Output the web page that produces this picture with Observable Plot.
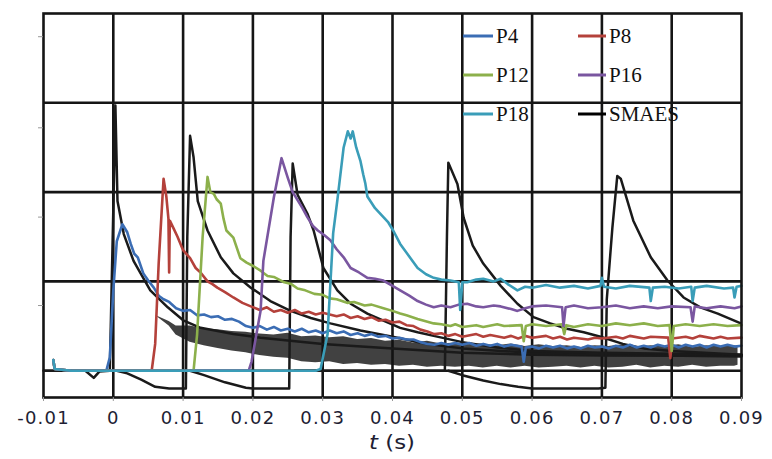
<!DOCTYPE html>
<html><head><meta charset="utf-8">
<script src="https://cdn.jsdelivr.net/npm/d3@7"></script>
<script src="https://cdn.jsdelivr.net/npm/@observablehq/plot@0.6"></script>
<style>
body{margin:0;background:#fff} #chart{width:772px;height:459px}
g[aria-label="x-axis tick label"] text{letter-spacing:1.2px}
</style>
</head><body><div id="chart"></div>
<script>
const xTicks = [-0.01,0,0.01,0.02,0.03,0.04,0.05,0.06,0.07,0.08,0.09];
const xTickLabels = ["-0.01","0","0.01","0.02","0.03","0.04","0.05","0.06","0.07","0.08","0.09"];
const xGrid = [0,0.01,0.02,0.03,0.04,0.05,0.06,0.07,0.08];
const yGrid = [0,1,2,3];
const yTicks = [0.73,1.72,2.72,3.74];
const seriesNames = ["P4","P8","P12","P16","P18","SMAES"];
const seriesColors = ["#3b6db4","#b4413b","#8cb04b","#7a56a0","#3a9db8","#000000"];

const p4 = [[-0.0086,0.12],[-0.0084,0.02],[-0.006,0],[-0.001,0],[-0.0005,0.15],[0,0.9],[0.0005,1.45],[0.0013,1.64],[0.002,1.55],[0.0025,1.42],[0.003,1.31],[0.0035,1.27],[0.0043,1.09],[0.005,1.01],[0.0058,0.93],[0.0065,0.84],[0.0072,0.8],[0.008,0.77],[0.009,0.7],[0.01,0.67],[0.011,0.68],[0.012,0.62],[0.013,0.63],[0.014,0.6],[0.015,0.61],[0.016,0.57],[0.017,0.58],[0.018,0.55],[0.019,0.5],[0.02,0.48],[0.021,0.5],[0.022,0.46],[0.023,0.49],[0.024,0.45],[0.025,0.47],[0.026,0.44],[0.027,0.47],[0.028,0.43],[0.029,0.45],[0.03,0.42],[0.031,0.45],[0.032,0.42],[0.033,0.44],[0.034,0.4],[0.035,0.42],[0.036,0.39],[0.037,0.41],[0.038,0.38],[0.039,0.39],[0.04,0.36],[0.041,0.37],[0.042,0.35],[0.043,0.35],[0.044,0.32],[0.045,0.3],[0.046,0.29],[0.047,0.31],[0.048,0.29],[0.049,0.31],[0.05,0.29],[0.051,0.31],[0.052,0.28],[0.053,0.3],[0.054,0.28],[0.055,0.3],[0.056,0.27],[0.057,0.29],[0.0585,0.27],[0.0588,0.1],[0.0591,0.26],[0.06,0.27],[0.061,0.25],[0.062,0.28],[0.063,0.26],[0.064,0.28],[0.065,0.25],[0.066,0.27],[0.067,0.25],[0.068,0.28],[0.069,0.26],[0.07,0.27],[0.071,0.25],[0.072,0.28],[0.073,0.26],[0.074,0.29],[0.075,0.26],[0.076,0.28],[0.077,0.26],[0.078,0.29],[0.079,0.27],[0.08,0.29],[0.081,0.26],[0.082,0.29],[0.083,0.27],[0.084,0.29],[0.085,0.26],[0.086,0.29],[0.087,0.27],[0.088,0.29],[0.089,0.27],[0.09,0.28]];

const p8 = [[-0.0086,0.12],[-0.0084,0.02],[-0.006,0],[0.0055,0],[0.006,0.3],[0.0065,1.2],[0.0072,2.15],[0.0076,1.95],[0.0079,1.7],[0.008,1.1],[0.0081,1.68],[0.0086,1.6],[0.0092,1.5],[0.01,1.35],[0.011,1.26],[0.0118,1.15],[0.0125,1.1],[0.0135,1.0],[0.0142,0.97],[0.0149,0.93],[0.016,0.88],[0.0172,0.82],[0.0185,0.76],[0.0197,0.72],[0.021,0.68],[0.022,0.71],[0.023,0.66],[0.024,0.68],[0.025,0.65],[0.026,0.68],[0.027,0.64],[0.028,0.66],[0.029,0.63],[0.03,0.65],[0.032,0.61],[0.033,0.63],[0.034,0.59],[0.035,0.61],[0.036,0.58],[0.037,0.6],[0.038,0.56],[0.039,0.57],[0.04,0.54],[0.041,0.55],[0.042,0.51],[0.043,0.5],[0.044,0.46],[0.045,0.44],[0.046,0.41],[0.047,0.42],[0.048,0.39],[0.049,0.41],[0.05,0.38],[0.052,0.41],[0.053,0.38],[0.054,0.4],[0.056,0.37],[0.057,0.39],[0.058,0.36],[0.059,0.39],[0.06,0.37],[0.062,0.39],[0.063,0.36],[0.064,0.38],[0.065,0.35],[0.066,0.37],[0.068,0.35],[0.069,0.37],[0.07,0.36],[0.072,0.38],[0.073,0.36],[0.074,0.39],[0.076,0.36],[0.077,0.38],[0.0795,0.37],[0.0798,0.14],[0.0801,0.36],[0.082,0.38],[0.083,0.36],[0.084,0.39],[0.086,0.36],[0.087,0.38],[0.088,0.36],[0.09,0.37]];

const p12 = [[-0.0086,0.12],[-0.0084,0.02],[-0.006,0],[0.0115,0],[0.012,0.4],[0.0128,1.5],[0.0135,2.17],[0.0139,2.0],[0.0144,1.98],[0.0148,1.92],[0.0154,1.87],[0.0158,1.7],[0.0162,1.57],[0.0172,1.49],[0.0182,1.26],[0.0191,1.21],[0.0201,1.17],[0.0211,1.12],[0.0221,1.06],[0.023,1.05],[0.0245,0.99],[0.0255,0.97],[0.0264,0.92],[0.0275,0.9],[0.0288,0.86],[0.03,0.85],[0.031,0.81],[0.032,0.8],[0.0335,0.76],[0.0345,0.77],[0.036,0.73],[0.037,0.74],[0.0387,0.7],[0.04,0.67],[0.0411,0.64],[0.042,0.62],[0.0436,0.58],[0.0445,0.56],[0.0459,0.53],[0.047,0.52],[0.0483,0.5],[0.049,0.52],[0.05,0.49],[0.052,0.51],[0.053,0.49],[0.055,0.52],[0.056,0.5],[0.0585,0.51],[0.0588,0.33],[0.0591,0.5],[0.06,0.52],[0.062,0.5],[0.0643,0.52],[0.0646,0.41],[0.0649,0.51],[0.066,0.49],[0.068,0.52],[0.07,0.5],[0.072,0.53],[0.074,0.51],[0.076,0.53],[0.078,0.5],[0.0797,0.51],[0.08,0.22],[0.0803,0.5],[0.082,0.52],[0.084,0.5],[0.086,0.52],[0.088,0.5],[0.09,0.51]];

const p16 = [[-0.0086,0.12],[-0.0084,0.02],[-0.006,0],[0.0194,0],[0.0198,0.1],[0.0211,0.67],[0.0215,1.23],[0.023,1.94],[0.0241,2.38],[0.025,2.16],[0.0257,2.0],[0.0264,1.91],[0.0271,1.82],[0.0278,1.72],[0.0286,1.62],[0.0293,1.57],[0.0302,1.52],[0.0311,1.46],[0.032,1.36],[0.033,1.27],[0.034,1.15],[0.0352,1.1],[0.0364,1.04],[0.0375,1.03],[0.0387,1.01],[0.04,0.95],[0.0411,0.9],[0.0424,0.84],[0.0436,0.78],[0.0448,0.74],[0.0459,0.71],[0.047,0.73],[0.0483,0.71],[0.0495,0.74],[0.0507,0.75],[0.052,0.72],[0.053,0.71],[0.0545,0.73],[0.0555,0.72],[0.057,0.69],[0.0579,0.67],[0.059,0.7],[0.06,0.72],[0.062,0.73],[0.0643,0.71],[0.0645,0.5],[0.0648,0.71],[0.066,0.73],[0.068,0.7],[0.07,0.71],[0.072,0.73],[0.074,0.7],[0.076,0.72],[0.078,0.7],[0.08,0.72],[0.0827,0.71],[0.083,0.55],[0.0833,0.72],[0.085,0.7],[0.087,0.72],[0.089,0.7],[0.09,0.72]];

const p18 = [[-0.0086,0.12],[-0.0084,0.02],[-0.006,0],[0.029,0],[0.0297,0.02],[0.0307,0.41],[0.0315,1.54],[0.0321,1.91],[0.033,2.5],[0.0336,2.68],[0.034,2.6],[0.0343,2.68],[0.0348,2.5],[0.0354,2.35],[0.0358,2.2],[0.0361,2.1],[0.0364,1.95],[0.0375,1.82],[0.0387,1.72],[0.0394,1.66],[0.0401,1.57],[0.0411,1.42],[0.0424,1.28],[0.0436,1.15],[0.0448,1.08],[0.0459,1.04],[0.047,1.02],[0.0483,1.01],[0.0495,0.99],[0.0497,0.68],[0.05,0.99],[0.0507,0.99],[0.052,1.02],[0.053,1.03],[0.0545,1.0],[0.0555,1.03],[0.0565,0.97],[0.0579,0.9],[0.059,0.94],[0.06,0.93],[0.062,0.96],[0.064,0.93],[0.066,0.95],[0.068,0.92],[0.0698,0.95],[0.07,1.04],[0.0703,0.94],[0.072,0.92],[0.074,0.95],[0.0768,0.93],[0.077,0.78],[0.0773,0.93],[0.079,0.94],[0.081,0.92],[0.0828,0.94],[0.083,0.78],[0.0833,0.93],[0.085,0.95],[0.0875,0.92],[0.0888,0.93],[0.089,0.82],[0.0893,0.94],[0.09,0.95]];

// SMAES: several overlapping black traces
const smaes1 = [[-0.01,0],[-0.004,0],[-0.0028,-0.08],[-0.002,-0.01],[-0.0005,0],[0,1.8],[0.0003,2.97],[0.0006,1.9],[0.0015,1.53],[0.0029,1.23],[0.0053,0.9],[0.0078,0.71],[0.0101,0.56],[0.0125,0.48],[0.0172,0.41],[0.0211,0.37],[0.03,0.3],[0.04,0.25],[0.05,0.2],[0.06,0.18],[0.07,0.17],[0.08,0.17],[0.09,0.17]];
const smaes2 = [[0.0005,0],[0.002,-0.03],[0.004,-0.1],[0.006,-0.18],[0.008,-0.2],[0.0104,-0.2],[0.0106,1.5],[0.011,2.63],[0.0115,2.39],[0.0121,1.9],[0.0135,1.57],[0.0154,1.27],[0.0172,1.09],[0.0197,0.93],[0.0225,0.78],[0.0254,0.67],[0.0283,0.59],[0.0311,0.53],[0.0354,0.45],[0.04,0.38],[0.045,0.3],[0.05,0.25],[0.06,0.2],[0.07,0.18],[0.09,0.16]];
const smaes3 = [[0.011,0],[0.013,-0.05],[0.016,-0.13],[0.019,-0.19],[0.02,-0.2],[0.0252,-0.2],[0.0254,1.5],[0.0257,2.32],[0.0264,1.97],[0.0278,1.76],[0.0287,1.57],[0.0301,1.15],[0.0321,0.9],[0.034,0.75],[0.0364,0.64],[0.0387,0.56],[0.0411,0.48],[0.0436,0.43],[0.0459,0.39],[0.05,0.32],[0.055,0.26],[0.06,0.22],[0.07,0.2],[0.09,0.18]];
const smaes4 = [[0.026,0],[0.0475,0],[0.0478,1.5],[0.048,2.33],[0.0493,2.09],[0.0502,1.71],[0.0515,1.4],[0.053,1.2],[0.0555,0.95],[0.0579,0.75],[0.0602,0.6],[0.0626,0.53],[0.065,0.47],[0.0674,0.43],[0.0698,0.38],[0.073,0.3],[0.076,0.25],[0.08,0.22],[0.09,0.18]];
const smaes5 = [[0.048,0],[0.05,-0.05],[0.053,-0.11],[0.0555,-0.15],[0.058,-0.18],[0.06,-0.2],[0.0695,-0.2],[0.0705,-0.19],[0.0707,0.8],[0.0715,1.6],[0.0722,2.18],[0.0727,2.15],[0.0745,1.68],[0.077,1.27],[0.0794,1.01],[0.0817,0.82],[0.0841,0.71],[0.0866,0.64],[0.0899,0.53]];
// dense noisy band of the SMAES traces (upper / lower envelope)
const bandT  = [0.006,0.008,0.009,0.011,0.013,0.015,0.017,0.019,0.021,0.023,0.025,0.027,0.029,0.031,0.033,0.035,0.037,0.039,0.041,0.043,0.045,0.047,0.049,0.051,0.053,0.055,0.057,0.059,0.061,0.063,0.065,0.067,0.069,0.071,0.073,0.075,0.077,0.079,0.081,0.083,0.085,0.087,0.089,0.0895];
const bandHi = [0.62,0.55,0.5,0.5,0.47,0.46,0.44,0.43,0.41,0.4,0.42,0.38,0.39,0.37,0.38,0.35,0.36,0.33,0.34,0.31,0.33,0.3,0.31,0.29,0.3,0.28,0.3,0.27,0.29,0.27,0.28,0.26,0.28,0.27,0.29,0.26,0.28,0.27,0.29,0.26,0.28,0.27,0.28,0.27];
const bandLo = [0.62,0.5,0.4,0.32,0.28,0.25,0.22,0.2,0.17,0.15,0.14,0.1,0.09,0.1,0.07,0.08,0.06,0.07,0.05,0.06,0.04,0.05,0.04,0.05,0.03,0.05,0.03,0.05,0.03,0.04,0.05,0.03,0.05,0.03,0.04,0.06,0.03,0.05,0.04,0.06,0.04,0.05,0.05,0.06];

const toRows = arr => arr.map(([t, v]) => ({t, v}));
const band = bandT.map((t, i) => ({t, hi: bandHi[i], lo: bandLo[i]}));
const colored = [p4, p8, p12, p16, p18];
const smaesTraces = [smaes1, smaes2, smaes3, smaes4, smaes5];

const plot = Plot.plot({
  width: 772, height: 459,
  marginLeft: 43, marginRight: 31, marginTop: 13, marginBottom: 62,
  x: {domain: [-0.01, 0.09]},
  y: {domain: [-0.3, 4]},
  marks: [
    Plot.gridX(xGrid, {stroke: "#151515", strokeOpacity: 1, strokeWidth: 2.6}),
    Plot.gridY(yGrid, {stroke: "#151515", strokeOpacity: 1, strokeWidth: 2.6}),
    Plot.areaY(band, {x: "t", y1: "lo", y2: "hi", fill: "#111", fillOpacity: 0.8, curve: "linear"}),
    ...smaesTraces.map(s => Plot.line(toRows(s), {x: "t", y: "v", stroke: "#1a1a1a", strokeWidth: 2.5})),
    ...colored.map((s, i) => Plot.line(toRows(s), {x: "t", y: "v", stroke: seriesColors[i], strokeWidth: 2.6, strokeLinejoin: "round"})),
    Plot.frame({stroke: "#151515", strokeWidth: 2.6}),
    Plot.axisX(xTicks, {tickSize: 4, tickPadding: 10, stroke: "#999", label: null,
      tickFormat: d => xTickLabels[xTicks.indexOf(d)], fontSize: 18, fill: "#1e1e34",
      fontFamily: "'DejaVu Sans', sans-serif"}),
    Plot.axisY(yTicks, {tickSize: 5, tickFormat: () => "", stroke: "#999", label: null})
  ]
});
document.getElementById("chart").appendChild(plot);

const svg = d3.select(plot);
svg.style("font-family", "'DejaVu Sans', sans-serif");

// axis title
const xs = plot.scale("x");
const title = svg.append("text")
  .attr("transform", `translate(${(xs.range[0] + xs.range[1]) / 2},449) scale(1.2,1)`)
  .attr("text-anchor", "middle").attr("font-size", 19).attr("fill", "#1e1e34");
title.append("tspan").attr("font-style", "italic").text("t");
title.append("tspan").text(" (s)");

// legend inside plot
const legendRows = [36, 75, 114];
const legendCols = [[463, 493, 496], [578, 606, 609]];
const lg = svg.append("g").attr("font-family", "'Liberation Serif', 'DejaVu Serif', serif")
  .attr("font-size", 21).attr("text-anchor", "start");
seriesNames.forEach((name, i) => {
  const r = Math.floor(i / 2), c = i % 2;
  const [x1, x2, tx] = legendCols[c];
  const y = legendRows[r];
  lg.append("line").attr("x1", x1).attr("x2", x2).attr("y1", y).attr("y2", y)
    .attr("stroke", seriesColors[i]).attr("stroke-width", 3);
  lg.append("text").attr("x", tx).attr("y", y + 7).attr("fill", "#111").text(name);
});
</script>
</body></html>
